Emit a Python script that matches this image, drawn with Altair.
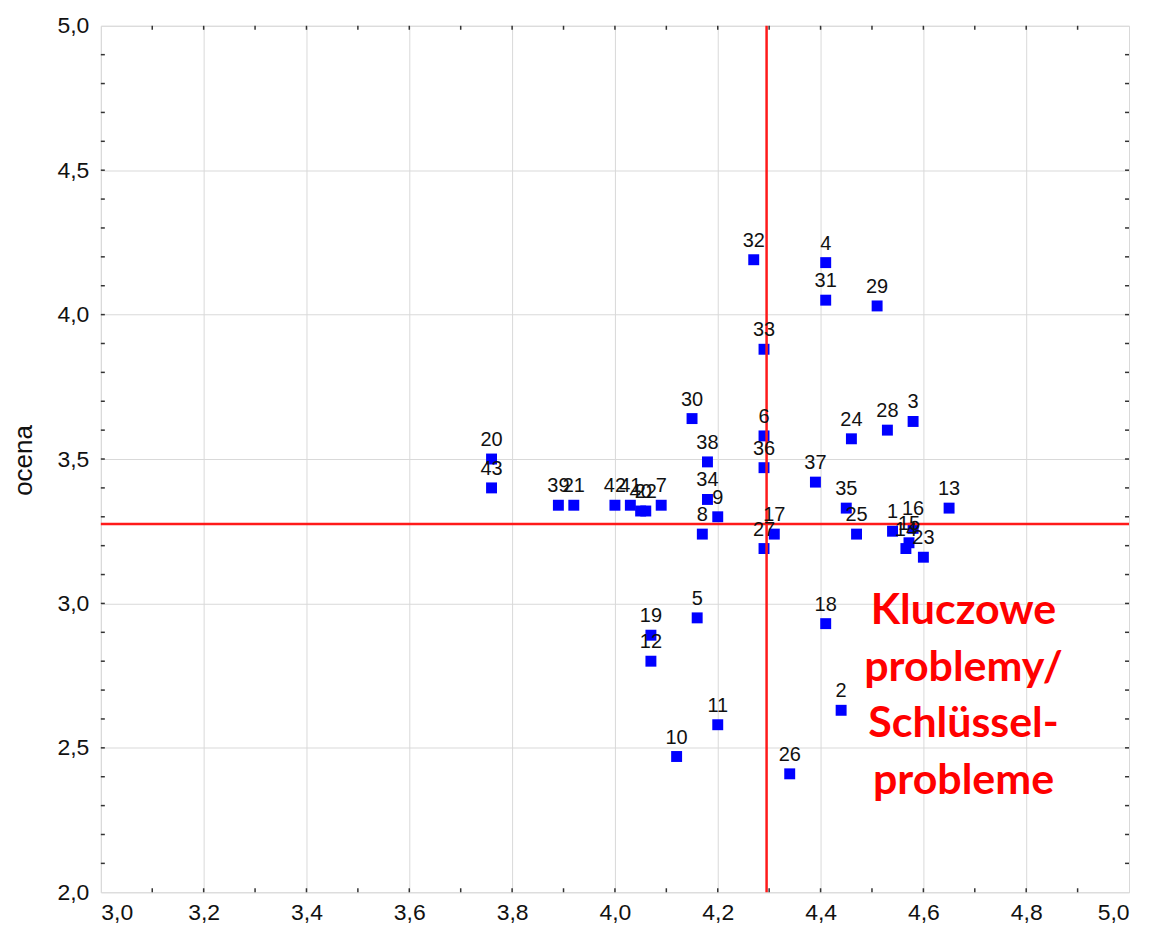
import altair as alt
import pandas as pd

# --- data ---
ids = list(range(1, 44))
x_vals = [4.54, 4.44, 4.58, 4.41, 4.16, 4.29, 4.09, 4.17, 4.20, 4.12,
          4.20, 4.07, 4.65, 4.566, 4.572, 4.58, 4.31, 4.41, 4.07, 3.76,
          3.92, 4.06, 4.60, 4.46, 4.47, 4.34, 4.29, 4.53, 4.51, 4.15,
          4.41, 4.27, 4.29, 4.18, 4.45, 4.29, 4.39, 4.18, 3.89, 4.05,
          4.03, 4.00, 3.76]
y_vals = [3.25, 2.63, 3.63, 4.18, 2.95, 3.58, 3.34, 3.24, 3.30, 2.47,
          2.58, 2.80, 3.33, 3.19, 3.21, 3.26, 3.24, 2.93, 2.89, 3.50,
          3.34, 3.32, 3.16, 3.57, 3.24, 2.41, 3.19, 3.60, 4.03, 3.64,
          4.05, 4.19, 3.88, 3.36, 3.33, 3.47, 3.42, 3.49, 3.34, 3.32,
          3.34, 3.34, 3.40]

mean_x = [4.295]
mean_y = [3.275]

x_grid = [3.0, 3.2, 3.4, 3.6, 3.8, 4.0, 4.2, 4.4, 4.6, 4.8, 5.0]
y_grid = [2.0, 2.5, 3.0, 3.5, 4.0, 4.5, 5.0]
x_ticks = [round(3.0 + 0.1 * i, 1) for i in range(1, 20)]
y_ticks = [round(2.0 + 0.1 * i, 1) for i in range(1, 30)]

note_lines = ["Kluczowe", "problemy/", "Schlüssel-", "probleme"]
note_x = [4.678]
note_y = [2.975]

W, H = 1030, 868

df = pd.DataFrame({"id": ids, "x": x_vals, "y": y_vals})
xs = alt.Scale(domain=[3, 5], nice=False, zero=False)
ys = alt.Scale(domain=[2, 5], nice=False, zero=False)

label_expr = "replace(format(datum.value, '.1f'), '.', ',')"

base = alt.Chart(df)

points = base.mark_square(size=120, color="#0000FF", opacity=1).encode(
    x=alt.X("x:Q", scale=xs, axis=alt.Axis(
        title=None, values=x_grid, grid=True, gridColor="#d9d9d9", gridWidth=1,
        ticks=False, domain=False, labelExpr=label_expr, labelFontSize=23,
        labelFont="Liberation Sans", labelColor="#111", labelPadding=9)),
    y=alt.Y("y:Q", scale=ys, axis=alt.Axis(
        title="ocena", values=y_grid, grid=True, gridColor="#d9d9d9", gridWidth=1,
        ticks=False, domain=False, labelExpr=label_expr, labelFontSize=23,
        labelFont="Liberation Sans", labelColor="#111", labelPadding=12,
        titleFont="Liberation Sans", titleFontSize=26, titleFontWeight="normal",
        titleColor="#111", titleX=-77, titleY=435, titleAlign="center",
        titleBaseline="middle", titleAngle=270)),
)

labels = base.mark_text(fontSize=20, font="Liberation Sans", color="#111",
                        baseline="middle", align="center", dy=-19).encode(
    x=alt.X("x:Q", scale=xs), y=alt.Y("y:Q", scale=ys), text="id:N")

hline = alt.Chart(pd.DataFrame({"y": mean_y})).mark_rule(
    color="#FF1A1A", strokeWidth=2.5).encode(
    y=alt.Y("y:Q", scale=ys), x=alt.value(0), x2=alt.value(W))
vline = alt.Chart(pd.DataFrame({"x": mean_x})).mark_rule(
    color="#FF1A1A", strokeWidth=2.5).encode(
    x=alt.X("x:Q", scale=xs), y=alt.value(0), y2=alt.value(H))

xt = pd.DataFrame({"x": x_ticks})
yt = pd.DataFrame({"y": y_ticks})
tick_color = "#333"
bt = alt.Chart(xt).mark_rule(color=tick_color, strokeWidth=1.5).encode(
    x=alt.X("x:Q", scale=xs), y=alt.value(H), y2=alt.value(H - 4))
tt = alt.Chart(xt).mark_rule(color=tick_color, strokeWidth=1.5).encode(
    x=alt.X("x:Q", scale=xs), y=alt.value(0), y2=alt.value(4))
lt = alt.Chart(yt).mark_rule(color=tick_color, strokeWidth=1.5).encode(
    y=alt.Y("y:Q", scale=ys), x=alt.value(0), x2=alt.value(4))
rt = alt.Chart(yt).mark_rule(color=tick_color, strokeWidth=1.5).encode(
    y=alt.Y("y:Q", scale=ys), x=alt.value(W), x2=alt.value(W - 4))

note = alt.Chart(pd.DataFrame({"x": note_x, "y": note_y, "t": [note_lines]})).mark_text(
    font="Lato", fontWeight="bold", fontSize=43, color="#FF0000",
    align="center", baseline="middle", lineHeight=57).encode(
    x=alt.X("x:Q", scale=xs), y=alt.Y("y:Q", scale=ys), text="t")

chart = alt.layer(points, hline, vline, bt, tt, lt, rt, labels, note).properties(
    width=W, height=H,
    autosize=alt.AutoSizeParams(type="none"),
    padding={"left": 93, "top": 17, "right": 12, "bottom": 36},
).configure_view(stroke="#404040", strokeWidth=2).configure(background="white")

chart.save("out.html", embed_options={"renderer": "svg", "actions": False})
